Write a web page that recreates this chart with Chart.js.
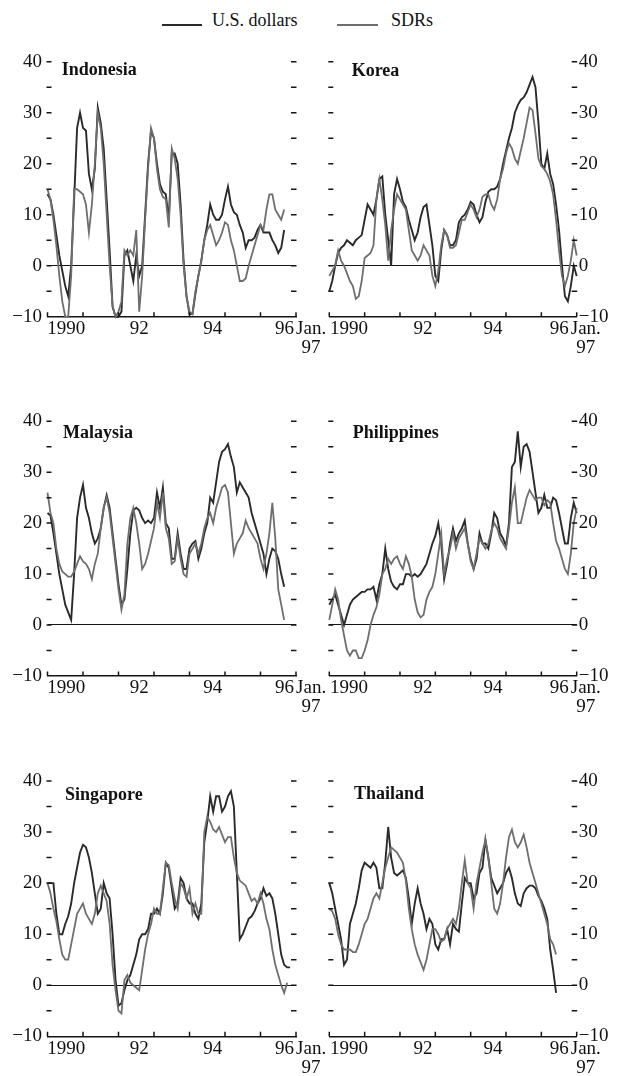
<!DOCTYPE html>
<html>
<head>
<meta charset="utf-8">
<title>Export growth in U.S. dollars and SDRs</title>
<script src="https://cdn.jsdelivr.net/npm/chart.js@4.4.1/dist/chart.umd.min.js"></script>
<style>
  html, body { margin: 0; padding: 0; background: #fff; }
  body { width: 618px; height: 1076px; position: relative; overflow: hidden;
         font-family: "Liberation Serif", "Times New Roman", serif; }
  canvas { position: absolute; }
  .lg-line { position: absolute; height: 2px; }
  .lg-text { position: absolute; font-size: 18px; line-height: 18px; color: #111; white-space: nowrap; }
</style>
</head>
<body>
<div class="lg-line" style="left:162px;top:24px;width:40px;background:#2a2a2a;"></div>
<span class="lg-text" style="left:212px;top:11px;">U.S. dollars</span>
<div class="lg-line" style="left:337px;top:24px;width:41px;background:#6e6e6e;"></div>
<span class="lg-text" style="left:391px;top:11px;">SDRs</span>

<script>
// Twelve-month growth, percent; monthly from January 1990 (index 0).
const idnUSD = [14,13,10,6,2,-1,-4,-6,0,13, 27,30,27,26.5,18,15,19,31,28,23, 13,3,-8,-10,-10,-9,2,3,0,-3,
  2,-2,0,10,20,26.5,25,20,16,14.5, 14,9,22,22,20,12,1,-6,-9.5,-9.5, -5.5,-2,1,5,8,12,10,9,9,10,
  13,15.5,12,10.5,10,8,6.5,3.5,5,5, 5.5,7,8,6.5,6.5,6.5,5,4,2.5,3.5, 7];
const idnSDR = [15,13,9,4,-2,-7,-10,-10,-2,15, 15,14.5,14,12,6.5,12,20,30,27,20, 10,0,-8,-10,-9,-7,3,2,3,2,
  7,-9,-2,9,19,27,25,19,15,13.5, 13,7.5,23,21,17,10,0,-6,-9,-9.5, -5,-2,1,5,7,8,6,4,5,6.5,
  8.5,8,5,3,0,-3,-3,-2.5,0,2, 4,6,8,7,11,14,14,11,10,9, 11];

const korUSD = [-5,-3,0,2.5,3.5,4,5,4.5,4,5, 5.5,6,9,12,11,10,13,17,17.5,10, 5,0,14,17,15,12.5,11.5,9,7,5,
  6.5,9.5,11.5,12,8,4,-2,-3,3,7, 6,4,4,5,8.5,9.5,10,11,12.5,12, 10,8.5,9.5,12.5,14.5,15,15,15.5,17,20,
  22.5,25,27,30,31.5,32.5,33,34,35.5,37, 35,28,20,19,22,18,16,12,7,0, -6,-7,-4,0,-2];
const korSDR = [-2,-1,0,3,1,0,-1.5,-3,-4,-6.5, -6,-3,1.5,2,2.5,4,13,17,13,8, 1,7,11,14,13,12,11,7,3,2,
  1,2,4,3,2,-2,-4,-1,4,7, 6,3.5,3.5,4,6.5,9,9,10.5,12,11, 9.5,11,13.5,14,14,12,11,13,17,19,
  22,24,23,21,20,22.5,25,28,31,30.5, 26,21,19.5,19,18,16.5,14,9,3,-2, -4,-2,1,5,2];

const myUSD = [22,21.5,18,14,10,7,4,2.5,1,10, 21,25,27.5,23,21,18,16,17,19,23, 25.5,23,18,13,8,4,5,11,18,22.5,
  23,22.5,21,20,20.5,20,21,26,23,27, 20,19,13,13,18,14,11,11,15,16, 16.5,13,15,18,20,25,24,28,32,34,
  34.5,35.5,33,31,26,28,27,26,25,22, 20,18,16,14,10,13,15,14.5,13,10, 7.5];
const mySDR = [26,22,20,15,12,10.5,10,9.5,9.5,10.5, 12,13.5,12.5,12,11,9,12,14,19,23, 25,22,17,12,7,3,6,16,21,23,
  20,16,11,12,14,16.5,19,24,21,26, 19,17,12,12.5,17,13,10,9.5,14,15, 16,14,16,19,21,22,20,23,25,27,
  27.5,26,20,14,16,17,18,20.5,19,18, 17,16,13,11,14,18,24,17,7,4, 1];

const phUSD = [4,5,6,4,2,0,2,4,5,5.5, 6,6.5,6.5,7,7,7.5,5,8,10,15, 11,8.5,7.5,7,8,8,10,10,9.5,10,
  9.5,10,11,12,14,16,17.5,20,16,9, 12,16,19,16.5,18,19,20.5,16,13,11, 13,18,16,16,15,18,22,21,18,17,
  15.5,20,31,32,38,31,35,35.5,34,30, 26,22,23,25.5,23,23,25,24.5,22,19, 16,16,21,24,22];
const phSDR = [1,4,7,5,1,-2,-5,-6,-5,-5, -6.5,-6.5,-5,-3,0,2,3.5,6,10,11, 13,12,13,13.5,12,11,13.5,12,9.5,5,
  2.5,1.5,2,5,6.5,7.5,10,14,18,10, 13,15,18,15,17,18,19,16,12.5,11, 14,17,16,15,16,18.5,20,19,17,16,
  15,19,24,27,20,20,22.5,25,26.5,25.5, 24.5,25,25,23.5,24.5,24,20,16.5,15,13, 11,10,14,20,23];

const sgUSD = [20,20,20,14,10,10,12,13.5,16,20, 23,26,27.5,27,25,22,18,14,15,20, 18,17,10,1,-4,-3.5,-1,1,2,4,
  6,9,10,10,11,14,14,15,14,18, 24,23,19,15,16,21,20,17,16,16, 14,13,16,28,32,37,34,37,37,34,
  35,37,38,35,22,9,10,11.5,13,13.5, 14.5,16,17,19,17.5,18,17,14,10,6, 4,3.5,3.5];
const sgSDR = [20,18,15,12.5,9,6,5,5,8,11, 14,15,16,14,13,12,14,18,19.5,18, 16.5,12,4,-1,-5,-5.5,1,2,0.5,0,
  -0.5,-1,3,7,10,12,15,14,14,19, 24,23.5,20,17,15,20,19,17,19,14, 16,14,14,30,33,32,30.5,30,31,29.5,
  28,29,29,25,22,20.5,20,19.5,18,16.5, 17,16,18,16,13,11,7,4,2,0, -1.5,0.5];

const thUSD = [20,18,15,12,9,4,5,12,14,16, 19,22.5,24,23.5,23,24,23,19,19,24, 31,25,22,21.5,22,22.5,21,17,12,16,
  19,16,14,11,13,12,8,7,9,9, 11,8,12,11,10.5,16,21,20,20,17, 18,22,23,28.5,25,21,19.5,18,19,20,
  22,23,21,18,16,15.5,18,19,19.5,19.5, 19,17.5,16.5,15,13,7,3,-1.5];
const thSDR = [15,14.5,13,10,8,7,7,7,6.5,6.5, 8,10,12,13,15,17,18,17,20,23, 25,27,26.5,26,25,24,20.5,15,11,8,
  6,4.5,3,5,8,11,11,10,8.5,9, 11,12,13,12,15,20,24.5,20,19,15, 20,23,26,28.5,25,20,15,14,16,20,
  25,29,30.5,28,27,28,29.5,27,24,22, 20,18,16,14,12,9,8,6];

// Axis values and tick labels
const yTickValues = [-10, -5, 0, 5, 10, 15, 20, 25, 30, 35, 40];
const yTickLabels = { '-10': '\u221210', '0': '0', '10': '10', '20': '20', '30': '30', '40': '40' };
const yearBoundaries = [0, 12, 24, 36, 48, 60, 72, 84];
const xLabelTexts = ['1990', '92', '94', '96', ['Jan.', '97']];
const xLabelPosLeft = [6.3, 31, 55.9, 80.1, 89.1];
const xLabelPosRight = [6.7, 31.8, 55.6, 78.1, 87.1];

const seriesNames = ['U.S. dollars', 'SDRs'];

// Page geometry of the six panels
const columns = [
  { left: 0,   width: 330, plotL: 47.5, plotR: 296,   labelSide: 'left',  xPos: xLabelPosLeft },
  { left: 325, width: 293, plotL: 4.3,  plotR: 251.7, labelSide: 'right', xPos: xLabelPosRight }
];
const rows = [
  { top: 40,  height: 330, plotT: 21.7, plotB: 276.7 },
  { top: 395, height: 330, plotT: 26.2, plotB: 281 },
  { top: 755, height: 321, plotT: 26,   plotB: 281.3 }
];

const panels = [
  { name: 'Indonesia',   usd: idnUSD, sdr: idnSDR, col: 0, row: 0, dx: 14.2, dy: 13.3 },
  { name: 'Korea',       usd: korUSD, sdr: korSDR, col: 1, row: 0, dx: 22.4, dy: 14.3 },
  { name: 'Malaysia',    usd: myUSD,  sdr: mySDR,  col: 0, row: 1, dx: 15.5, dy: 16.3 },
  { name: 'Philippines', usd: phUSD,  sdr: phSDR,  col: 1, row: 1, dx: 23.4, dy: 16.3 },
  { name: 'Singapore',   usd: sgUSD,  sdr: sgSDR,  col: 0, row: 2, dx: 17.5, dy: 19.3 },
  { name: 'Thailand',    usd: thUSD,  sdr: thSDR,  col: 1, row: 2, dx: 24.7, dy: 18.3 }
];

const INK = '#151515';
const AXIS_FONT = { family: '"Liberation Serif", "Times New Roman", serif', size: 19, lineHeight: 1.0 };

// Inward tick dashes on both vertical edges, year ticks on the base line, and the panel name
const panelDecor = {
  id: 'panelDecor',
  afterDraw(chart, args, opts) {
    const { ctx, chartArea: a } = chart;
    const xs = chart.scales.x, ys = chart.scales.y;
    ctx.save();
    ctx.strokeStyle = INK;
    ctx.lineWidth = 1.5;
    ctx.beginPath();
    yTickValues.forEach(v => {
      if (v === -10) return;
      const py = ys.getPixelForValue(v);
      ctx.moveTo(a.left - 1, py); ctx.lineTo(a.left + 4, py);
      ctx.moveTo(a.right - 5, py); ctx.lineTo(a.right + 0.5, py);
    });
    yearBoundaries.forEach(t => {
      const px = xs.getPixelForValue(t);
      ctx.moveTo(px, a.bottom); ctx.lineTo(px, a.bottom - 4.5);
    });
    ctx.stroke();
    ctx.fillStyle = '#111';
    ctx.font = 'bold 18px "Liberation Serif", "Times New Roman", serif';
    ctx.textBaseline = 'alphabetic';
    ctx.textAlign = 'left';
    ctx.fillText(opts.name, a.left + opts.dx, ys.getPixelForValue(40) + opts.dy);
    ctx.restore();
  }
};

function makePanel(p) {
  const col = columns[p.col], row = rows[p.row];
  const cv = document.createElement('canvas');
  cv.width = col.width; cv.height = row.height;
  cv.style.left = col.left + 'px'; cv.style.top = row.top + 'px';
  cv.style.width = col.width + 'px'; cv.style.height = row.height + 'px';
  document.body.appendChild(cv);

  const labelAt = new Map();
  col.xPos.forEach((v, i) => labelAt.set(v, xLabelTexts[i]));
  // sorted tick list, with the closing year boundary kept last
  const xTicks = yearBoundaries.slice(0, -1).concat(col.xPos).sort((a, b) => a - b);
  xTicks.push(84);

  const yLabel = v => (yTickLabels[String(v)] !== undefined ? yTickLabels[String(v)] : '');
  const leftLabels = col.labelSide === 'left';

  const toPoints = arr => arr.map((v, i) => ({ x: i, y: v }));

  new Chart(cv, {
    type: 'line',
    data: {
      datasets: [
        { label: seriesNames[1], data: toPoints(p.sdr), borderColor: '#6e6e6e', borderWidth: 1.8,
          pointRadius: 0, tension: 0, clip: 3, yAxisID: 'y' },
        { label: seriesNames[0], data: toPoints(p.usd), borderColor: '#2a2a2a', borderWidth: 1.9,
          pointRadius: 0, tension: 0, clip: 3, yAxisID: 'y' }
      ]
    },
    options: {
      responsive: false,
      animation: false,
      devicePixelRatio: 1,
      layout: { padding: { top: row.plotT, left: 0, right: 0, bottom: 0 } },
      plugins: {
        legend: { display: false },
        tooltip: { enabled: false },
        panelDecor: { name: p.name, dx: p.dx, dy: p.dy }
      },
      scales: {
        x: {
          type: 'linear', min: 0, max: 84, position: 'bottom',
          afterBuildTicks: s => { s.ticks = xTicks.map(v => ({ value: v })); },
          afterFit: s => { s.height = row.height - row.plotB; },
          ticks: {
            autoSkip: false, maxRotation: 0, minRotation: 0, padding: 3,
            color: '#111', font: AXIS_FONT,
            callback: v => (labelAt.has(v) ? labelAt.get(v) : '')
          },
          grid: { display: false, drawTicks: false },
          border: { display: true, color: INK, width: 1.5 }
        },
        y: {
          type: 'linear', min: -10, max: 40, position: 'left',
          afterBuildTicks: s => { s.ticks = yTickValues.map(v => ({ value: v })); },
          afterFit: s => { s.width = col.plotL; },
          ticks: {
            autoSkip: false, padding: 5.5, color: '#111', font: AXIS_FONT,
            callback: v => (leftLabels ? yLabel(v) : '')
          },
          grid: {
            display: true, drawOnChartArea: true, drawTicks: false,
            color: c => (c.tick && c.tick.value === 0 ? INK : 'rgba(0,0,0,0)'),
            lineWidth: 1.1
          },
          border: { display: false }
        },
        y2: {
          type: 'linear', min: -10, max: 40, position: 'right',
          afterBuildTicks: s => { s.ticks = yTickValues.map(v => ({ value: v })); },
          afterFit: s => { s.width = col.width - col.plotR; },
          ticks: {
            autoSkip: false, padding: 2, color: '#111', font: AXIS_FONT,
            callback: v => (leftLabels ? '' : yLabel(v))
          },
          grid: { display: false, drawTicks: false },
          border: { display: false }
        }
      }
    },
    plugins: [panelDecor]
  });
}

panels.forEach(makePanel);
</script>
</body>
</html>
